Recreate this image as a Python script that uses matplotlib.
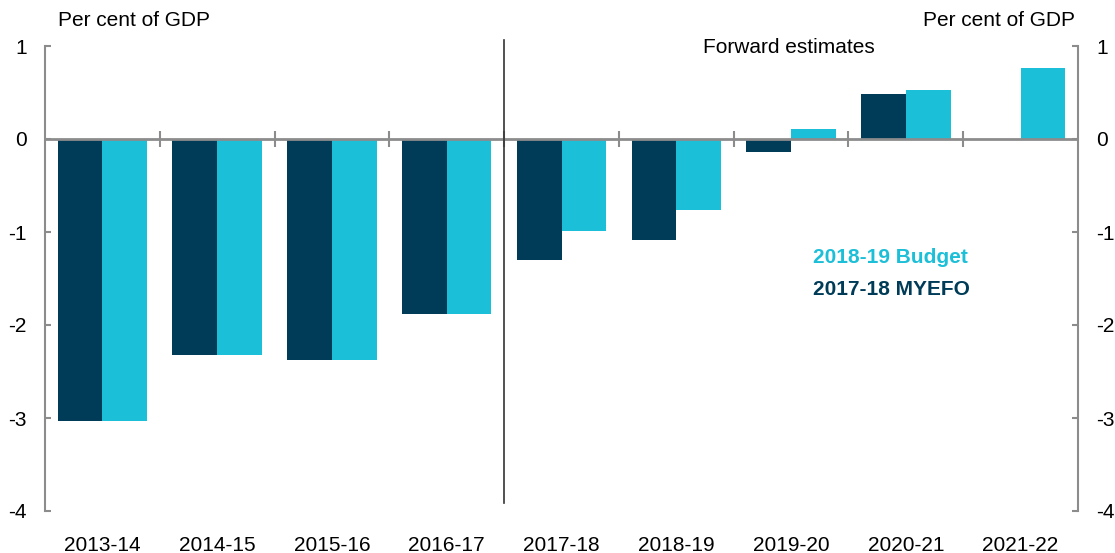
import numpy as np
import matplotlib
matplotlib.use("Agg")
import matplotlib.pyplot as plt

plt.rcParams['font.family'] = ['Liberation Sans', 'DejaVu Sans']
plt.rcParams['axes.unicode_minus'] = False

categories = ["2013-14", "2014-15", "2015-16", "2016-17", "2017-18",
              "2018-19", "2019-20", "2020-21", "2021-22"]
myefo = [-3.03, -2.32, -2.38, -1.88, -1.30, -1.09, -0.14, 0.48, np.nan]
budget = [-3.03, -2.32, -2.38, -1.88, -0.99, -0.76, 0.11, 0.53, 0.76]

DARK = "#003C57"
LIGHT = "#1CBFD8"
GREY = "#8C8C8C"

W, H = 1115, 553
fig = plt.figure(figsize=(W / 100, H / 100), dpi=100)
ax = fig.add_axes([45 / W, 1 - 511 / H, (1078 - 45) / W, (511 - 46) / H])

x = np.arange(len(categories))
bw = 0.39
ax.bar(x - bw / 2, myefo, width=bw, color=DARK, zorder=2)
ax.bar(x + bw / 2, budget, width=bw, color=LIGHT, zorder=2)

ax.set_xlim(-0.5, len(categories) - 0.5)
ax.set_ylim(-4, 1)

for s in ['top', 'bottom']:
    ax.spines[s].set_visible(False)
for s in ['left', 'right']:
    ax.spines[s].set_color(GREY)
    ax.spines[s].set_linewidth(1.5)

ax.set_yticks([1, 0, -1, -2, -3, -4])
ax.tick_params(axis='y', which='both', direction='in', length=4, width=1.5,
               color=GREY, labelsize=15, pad=13, right=True, labelright=True)
ax.set_xticks(x)
ax.set_xticklabels(categories)
ax.tick_params(axis='x', length=0, labelsize=15, pad=18)

# zero line with category-boundary ticks
ax.axhline(0, color=GREY, lw=2, zorder=3)
sec = ax.secondary_xaxis(0.8)
sec.set_xticks(x[:-1] + 0.5)
sec.tick_params(axis='x', direction='inout', length=12, width=1.5, color=GREY,
                labelbottom=False, labeltop=False)
for sp in sec.spines.values():
    sp.set_visible(False)

# forward estimates divider
ax.plot([3.5, 3.5], [1.065, -3.91], color="#333333", lw=1.2, clip_on=False, zorder=4)
ax.text(6.73, 0.985, "Forward estimates", ha='right', va='center', fontsize=15)

ax.text(6.19, -1.27, "2018-19 Budget", color=LIGHT, fontsize=15,
        fontweight='bold', ha='left', va='center')
ax.text(6.19, -1.62, "2017-18 MYEFO", color=DARK, fontsize=15,
        fontweight='bold', ha='left', va='center')

fig.text(58 / W, 1 - 21 / H, "Per cent of GDP", ha='left', va='center', fontsize=15)
fig.text(1075 / W, 1 - 21 / H, "Per cent of GDP", ha='right', va='center', fontsize=15)

fig.savefig("out.png", dpi=100)
